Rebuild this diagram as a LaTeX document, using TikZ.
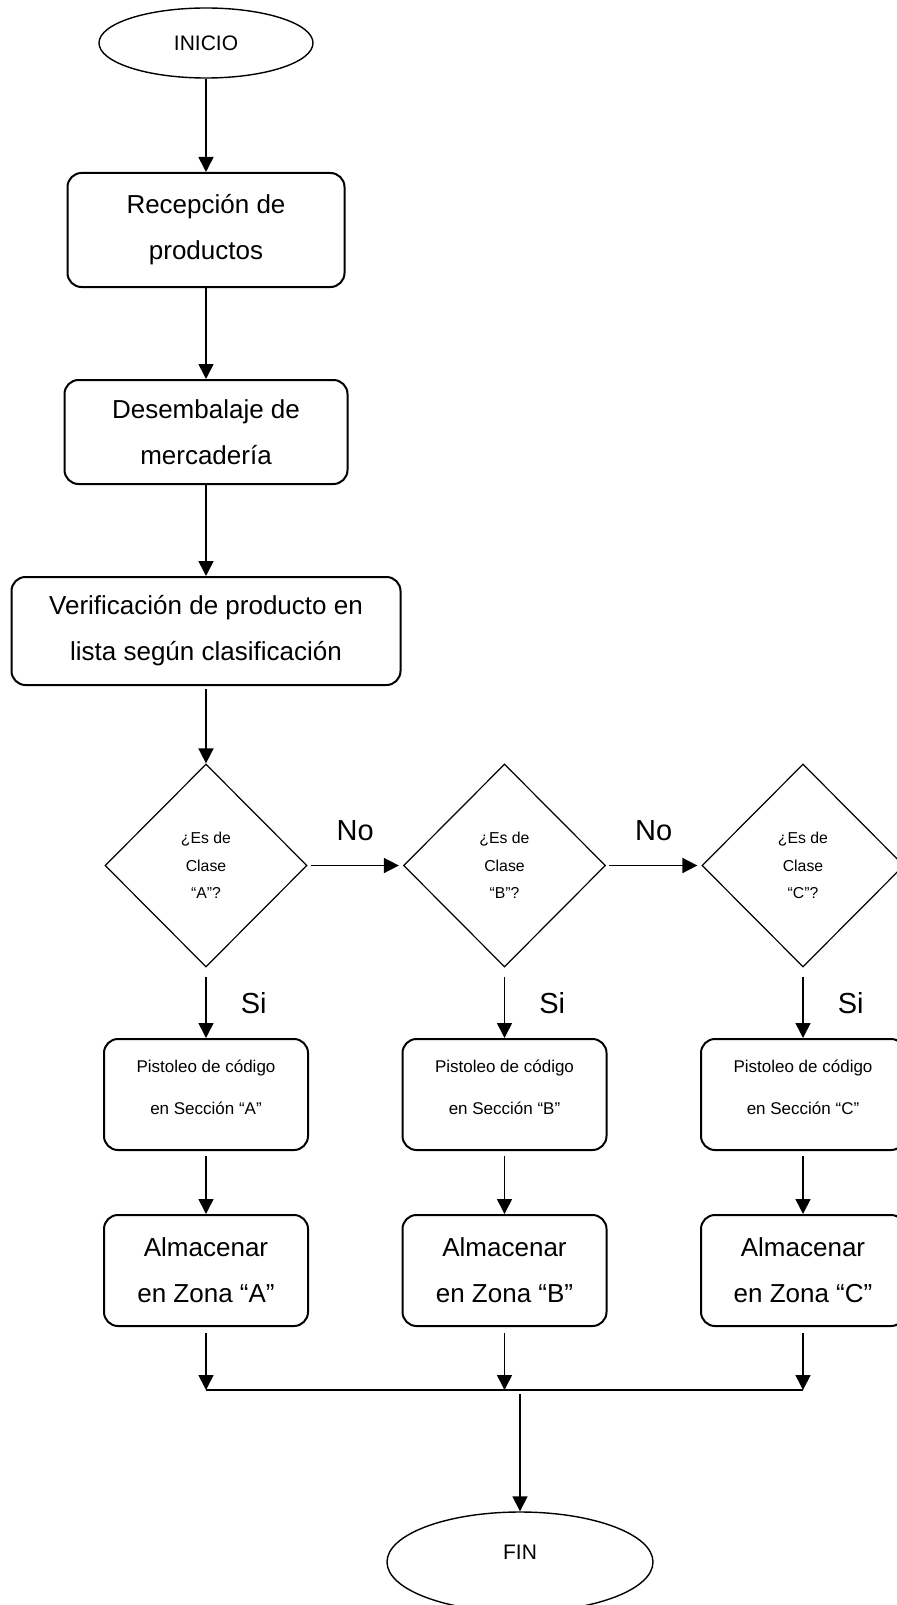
\documentclass[tikz,border=0pt]{standalone}
\usepackage{fontspec}
\setmainfont{Liberation Sans}
\usetikzlibrary{shapes.geometric, arrows.meta, positioning}
\tikzstyle{term} = [ellipse, draw=black, line width=0.7pt, inner sep=0pt, font=\fontsize{10.5}{12}\selectfont]
\tikzstyle{process} = [rectangle, rounded corners=7pt, draw=black, line width=1pt, inner sep=0pt, align=center, font=\fontsize{13}{23}\selectfont]
\tikzstyle{scan} = [process, minimum width=102pt, minimum height=55.5pt, text depth=7.5pt, font=\fontsize{8.5}{21}\selectfont]
\tikzstyle{store} = [process, minimum width=102pt, minimum height=55.5pt]
\tikzstyle{decision} = [diamond, aspect=1, draw=black, line width=0.6pt, minimum width=101pt, minimum height=101.5pt, inner sep=0pt, align=center, font=\fontsize{7.9}{13.75}\selectfont]
\tikzstyle{arrow} = [line width=0.8pt,-{Triangle[length=7.5pt,width=7.5pt]}]
\tikzstyle{joinline} = [line width=1pt]
\tikzstyle{tag} = [inner sep=0pt, font=\fontsize{14.5}{16}\selectfont]

\begin{document}
\begin{tikzpicture}[x=0.5pt, y=-0.5pt]
	\useasboundingbox (0,0) rectangle (897,1605);

	\node (inicio) [term, minimum width=107pt, minimum height=35pt] at (206,43) {INICIO};
	\node (recep) [process, minimum width=138.5pt, minimum height=57pt, node distance=93.5pt, below of=inicio] {Recepción de\\productos};
	\node (desemb) [process, minimum width=141.5pt, minimum height=52pt, node distance=101pt, below of=recep] {Desembalaje de\\mercadería};
	\node (verif) [process, minimum width=194.5pt, minimum height=54pt, node distance=99.5pt, below of=desemb] {Verificación de producto en\\lista según clasificación};

	\node (dA) [decision, node distance=117.25pt, below of=verif] {¿Es de\\Clase\\“A”?};
	\node (dB) [decision, node distance=149.25pt, right of=dA] {¿Es de\\Clase\\“B”?};
	\node (dC) [decision, node distance=149.25pt, right of=dB] {¿Es de\\Clase\\“C”?};

	\node (pA) [scan, node distance=114.5pt, below of=dA] {Pistoleo de código\\en Sección “A”};
	\node (pB) [scan, node distance=114.5pt, below of=dB] {Pistoleo de código\\en Sección “B”};
	\node (pC) [scan, node distance=114.5pt, below of=dC] {Pistoleo de código\\en Sección “C”};

	\node (aA) [store, node distance=88pt, below of=pA] {Almacenar\\en Zona “A”};
	\node (aB) [store, node distance=88pt, below of=pB] {Almacenar\\en Zona “B”};
	\node (aC) [store, node distance=88pt, below of=pC] {Almacenar\\en Zona “C”};

	\node (fin) [term, minimum width=133pt, minimum height=50pt, text depth=10pt] at (520,1562) {FIN};

	\coordinate (jA) at (206,1390);
	\coordinate (jB) at (504.5,1390);
	\coordinate (jC) at (803,1390);
	\coordinate (jF) at (520,1394);

	\draw [arrow] (inicio) -- (recep);
	\draw [arrow] (recep) -- (desemb);
	\draw [arrow] (desemb) -- (verif);
	\draw [arrow, shorten <=1.5pt] (verif) -- (dA);

	\draw [arrow, shorten <=1.5pt, shorten >=2pt] (dA) -- node[tag, above=12pt] {No} (dB);
	\draw [arrow, shorten <=1.5pt, shorten >=2pt] (dB) -- node[tag, above=12pt] {No} (dC);

	\draw [arrow, shorten <=4.5pt] (dA) -- node[tag, right=17pt] {Si} (pA);
	\draw [arrow, shorten <=4.5pt] (dB) -- node[tag, right=17pt] {Si} (pB);
	\draw [arrow, shorten <=4.5pt] (dC) -- node[tag, right=17pt] {Si} (pC);

	\draw [arrow, shorten <=2.5pt] (pA) -- (aA);
	\draw [arrow, shorten <=2.5pt] (pB) -- (aB);
	\draw [arrow, shorten <=2.5pt] (pC) -- (aC);

	\draw [arrow, shorten <=3pt] (aA) -- (jA);
	\draw [arrow, shorten <=3pt] (aB) -- (jB);
	\draw [arrow, shorten <=3pt] (aC) -- (jC);
	\draw [joinline] (jA) -- (jC);
	\draw [arrow] (jF) -- (fin);
\end{tikzpicture}
\end{document}
